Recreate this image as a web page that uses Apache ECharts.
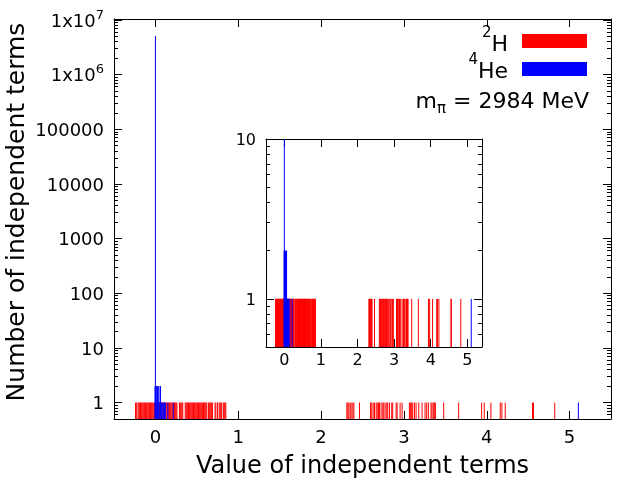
<!DOCTYPE html>
<html>
<head>
<meta charset="utf-8">
<script src="https://cdn.jsdelivr.net/npm/echarts@6/dist/echarts.min.js"></script>
<style>
  html, body { margin: 0; padding: 0; background: #fff; }
  #chart { width: 640px; height: 480px; }
</style>
</head>
<body>
<div id="chart"></div>
<script>
// values of the 2H independent terms (each one occurs once)
var h2X = [
  -0.24, -0.23, -0.21, -0.20, -0.19, -0.18, -0.17, -0.16, -0.15, -0.14, -0.13, -0.12,
  -0.11, -0.10, -0.09, -0.08, -0.07, -0.06, -0.05, -0.04, -0.03, -0.02, -0.01, 0.00,
  0.01, 0.02, 0.03, 0.04, 0.05, 0.06, 0.07, 0.08, 0.09, 0.10, 0.11, 0.12, 0.13, 0.14,
  0.15, 0.16, 0.17, 0.18, 0.19, 0.20, 0.21, 0.22, 0.23, 0.24, 0.25, 0.26, 0.29, 0.30,
  0.31, 0.32, 0.33, 0.36, 0.37, 0.38, 0.39, 0.40, 0.41, 0.42, 0.43, 0.44, 0.45, 0.46,
  0.47, 0.48, 0.49, 0.50, 0.51, 0.52, 0.53, 0.54, 0.55, 0.56, 0.57, 0.58, 0.59, 0.60,
  0.61, 0.62, 0.64, 0.65, 0.66, 0.67, 0.68, 0.69, 0.72, 0.73, 0.75, 0.77, 0.78, 0.79,
  0.80, 0.82, 0.83, 0.84, 0.85,
  2.311, 2.323, 2.335, 2.351, 2.363, 2.383, 2.396, 2.464, 2.596, 2.612, 2.629, 2.645,
  2.665, 2.677, 2.693, 2.705, 2.725, 2.745, 2.757, 2.773, 2.793, 2.805, 2.825, 2.853,
  2.865, 2.906, 2.918, 2.954, 2.978, 3.066, 3.078, 3.094, 3.106, 3.127, 3.147, 3.179,
  3.219, 3.255, 3.275, 3.295, 3.327, 3.339, 3.355, 3.367, 3.380, 3.480, 3.661, 3.938,
  3.970, 4.050, 4.163, 4.183, 4.223, 4.552, 4.564, 4.821
];
var h2Count = 1;

// 4He independent terms: value and how many times it occurs
var he4X     = [0.00,    -0.005, 0.005, 0.015, 0.025, 0.035, 0.045, 0.055, 0.062, 0.07, 0.08, 0.09, 0.10, 0.11, 0.12, 0.15, 0.215, 5.106];
var he4Count = [5.1e6,   2,      2,     2,     2,     2,     1,     2,     2,     1,    1,    1,    1,    1,    1,    1,    1,     1];

var xTicks = [0, 1, 2, 3, 4, 5];
var mainYTicks = [1, 10, 100, 1000, 10000, 100000, 1e6, 1e7];
var insetYTicks = [1, 10];

var FONT = 'DejaVu Sans';

function minorTicks(lo, hi) {
  var out = [];
  for (var d = lo; d <= hi; d *= 10) {
    for (var m = 2; m <= 9; m++) out.push(m * d);
  }
  return out;
}
var mainMinor = [0.6, 0.7, 0.8, 0.9].concat(minorTicks(1, 1e6));
var insetMinor = [0.6, 0.7, 0.8, 0.9].concat(minorTicks(1, 1));

var h2Data = h2X.map(function (x) { return [x, h2Count]; });
var he4Data = he4X.map(function (x, i) { return [x, he4Count[i]]; });

function yLabel(v) {
  var e = Math.round(Math.log10(v));
  if (e >= 6) return '{b|1x10}{s|' + e + '}';
  return '{b|' + Math.pow(10, e) + '}';
}

var black = { color: '#000', width: 1 };

function xAxes(grid, min, max, size, name) {
  return [{
    gridIndex: grid, type: 'value', min: min, max: max, position: 'bottom',
    axisLine: { onZero: false, lineStyle: black },
    axisTick: { inside: true, length: 8, customValues: xTicks, lineStyle: black },
    axisLabel: { customValues: xTicks, fontSize: size, fontFamily: FONT, color: '#000', margin: grid ? 6 : 10 },
    splitLine: { show: false },
    name: name, nameLocation: 'middle', nameGap: 36,
    nameTextStyle: { fontSize: 24, fontFamily: FONT, color: '#000' }
  }, {
    gridIndex: grid, type: 'value', min: min, max: max, position: 'top',
    axisLine: { onZero: false, lineStyle: black },
    axisTick: { inside: true, length: 8, customValues: xTicks, lineStyle: black },
    axisLabel: { show: false },
    splitLine: { show: false }
  }];
}

function yAxes(grid, max, majors, minors, size) {
  var base = { gridIndex: grid, type: 'log', logBase: 10, min: 0.5, max: max, splitLine: { show: false } };
  var list = [];
  ['left', 'right'].forEach(function (side) {
    list.push(Object.assign({}, base, {
      position: side,
      axisLine: { onZero: false, lineStyle: black },
      axisTick: { inside: true, length: 8, customValues: majors, lineStyle: black },
      axisLabel: side === 'left' ? {
        customValues: majors, margin: 10, formatter: yLabel,
        rich: {
          b: { fontSize: size, fontFamily: FONT, color: '#000', lineHeight: size + 4, verticalAlign: 'bottom' },
          s: { fontSize: Math.round(size * 0.72), fontFamily: FONT, color: '#000', lineHeight: 12, verticalAlign: 'top' }
        }
      } : { show: false }
    }));
    list.push(Object.assign({}, base, {
      position: side,
      axisLine: { show: false, onZero: false },
      axisTick: { inside: true, length: 4, customValues: minors, lineStyle: black },
      axisLabel: { show: false }
    }));
  });
  return list;
}

function impulse(params, api) {
  var top = api.coord([api.value(0), api.value(1)]);
  var cs = params.coordSys;
  return {
    type: 'line',
    shape: { x1: top[0], y1: top[1], x2: top[0], y2: cs.y + cs.height },
    style: { stroke: api.visual('color'), lineWidth: 1 }
  };
}

function impulses(data, color, xi, yi) {
  return {
    type: 'custom', renderItem: impulse, data: data, clip: true, silent: true,
    xAxisIndex: xi, yAxisIndex: yi, itemStyle: { color: color },
    encode: { x: 0, y: 1 }
  };
}

var chart = echarts.init(document.getElementById('chart'));
chart.setOption({
  animation: false,
  backgroundColor: '#fff',
  grid: [
    { left: 114, top: 19, width: 497, height: 400, outerBoundsMode: 'none', containLabel: false },
    { left: 266, top: 139, width: 216, height: 208, outerBoundsMode: 'none', containLabel: false,
      show: true, backgroundColor: '#fff', borderWidth: 0 }
  ],
  xAxis: xAxes(0, -0.5, 5.5, 18, 'Value of independent terms').concat(xAxes(1, -0.5, 5.4, 16, '')),
  yAxis: yAxes(0, 1.04e7, mainYTicks, mainMinor, 18).concat(yAxes(1, 10, insetYTicks, insetMinor, 16)),
  series: [
    impulses(h2Data, '#ff0000', 0, 0),
    impulses(he4Data, '#0000ff', 0, 0),
    impulses(h2Data, '#ff0000', 2, 4),
    impulses(he4Data, '#0000ff', 2, 4)
  ],
  graphic: [
    {
      type: 'text', x: 17, y: 212, rotation: Math.PI / 2,
      style: { text: 'Number of independent terms', font: '25px "DejaVu Sans"', fill: '#000', align: 'center', verticalAlign: 'middle' }
    },
    {
      type: 'text', x: 508, y: 41,
      style: {
        text: '{s|2}{b|H}', align: 'right', verticalAlign: 'middle',
        rich: {
          b: { fontSize: 22, fontFamily: FONT, fill: '#000', lineHeight: 30, verticalAlign: 'bottom' },
          s: { fontSize: 15, fontFamily: FONT, fill: '#000', lineHeight: 15, verticalAlign: 'top' }
        }
      }
    },
    { type: 'rect', shape: { x: 522, y: 34, width: 65, height: 14 }, style: { fill: '#ff0000' } },
    {
      type: 'text', x: 508, y: 68,
      style: {
        text: '{s|4}{b|He}', align: 'right', verticalAlign: 'middle',
        rich: {
          b: { fontSize: 22, fontFamily: FONT, fill: '#000', lineHeight: 30, verticalAlign: 'bottom' },
          s: { fontSize: 15, fontFamily: FONT, fill: '#000', lineHeight: 15, verticalAlign: 'top' }
        }
      }
    },
    { type: 'rect', shape: { x: 522, y: 62, width: 65, height: 14 }, style: { fill: '#0000ff' } },
    {
      type: 'text', x: 589, y: 104,
      style: {
        text: '{b|m}{u|π}{b| = 2984 MeV}', align: 'right', verticalAlign: 'middle',
        rich: {
          b: { fontSize: 22, fontFamily: FONT, fill: '#000', lineHeight: 26, verticalAlign: 'top' },
          u: { fontSize: 15, fontFamily: FONT, fill: '#000', lineHeight: 15, verticalAlign: 'bottom' }
        }
      }
    }
  ]
});
</script>
</body>
</html>
